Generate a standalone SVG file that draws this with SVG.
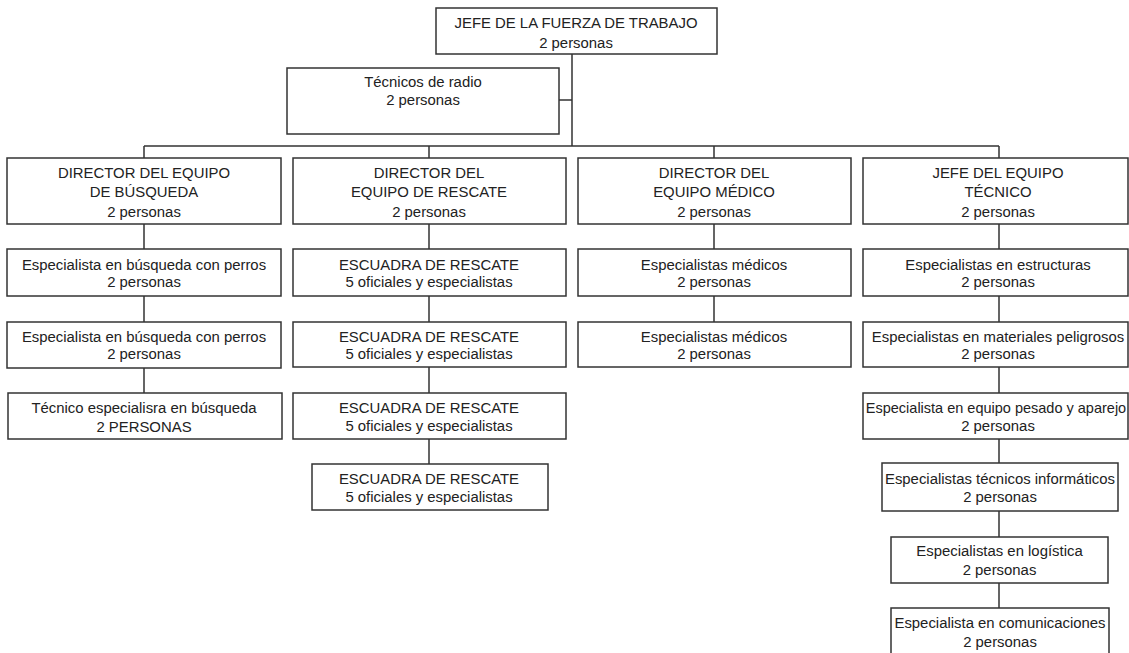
<svg xmlns="http://www.w3.org/2000/svg" width="1129" height="653" viewBox="0 0 1129 653">
<style>
.b{fill:#fff;stroke:#333;stroke-width:1.5}
.c{fill:none;stroke:#333;stroke-width:1.5}
text{font-family:"Liberation Sans",Arial,sans-serif;font-size:14.9px;fill:#222;text-anchor:middle}
</style>
<rect width="1129" height="653" fill="#fff"/>
<g id="connectors">
<path class="c" d="M572 54V146M559 100H572M144 146H999M144 146V158M429 146V158M714 146V158M999 146V158"/>
<path class="c" d="M144 224V249M144 296V322M144 368V393"/>
<path class="c" d="M429 224V249M429 296V322M429 367V393M429 439V464"/>
<path class="c" d="M714 224V249M714 296V322"/>
<path class="c" d="M999 224V249M999 296V322M999 367V393M999 439V463M999 511V537M999 583V608"/>
</g>
<g id="jefe"><rect class="b" x="436" y="8" width="281" height="46"/><text x="576" y="28">JEFE DE LA FUERZA DE TRABAJO</text><text x="576" y="48">2 personas</text></g>
<g id="radio"><rect class="b" x="287" y="68" width="272" height="66"/><text x="423" y="87">Técnicos de radio</text><text x="423" y="105">2 personas</text></g>

<g id="dir-busqueda"><rect class="b" x="7" y="158" width="274" height="66"/><text x="144" y="178">DIRECTOR DEL EQUIPO</text><text x="144" y="197">DE BÚSQUEDA</text><text x="144" y="217">2 personas</text></g>
<g id="perros1"><rect class="b" x="7" y="249" width="274" height="47"/><text x="144" y="270">Especialista en búsqueda con perros</text><text x="144" y="287">2 personas</text></g>
<g id="perros2"><rect class="b" x="7" y="322" width="274" height="46"/><text x="144" y="342">Especialista en búsqueda con perros</text><text x="144" y="359">2 personas</text></g>
<g id="tec-busqueda"><rect class="b" x="8" y="393" width="274" height="46"/><text x="144" y="413">Técnico especialisra en búsqueda</text><text x="144" y="432">2 PERSONAS</text></g>

<g id="dir-rescate"><rect class="b" x="293" y="158" width="273" height="66"/><text x="429" y="178">DIRECTOR DEL</text><text x="429" y="197">EQUIPO DE RESCATE</text><text x="429" y="217">2 personas</text></g>
<g id="esc1"><rect class="b" x="293" y="249" width="273" height="47"/><text x="429" y="270">ESCUADRA DE RESCATE</text><text x="429" y="287">5 oficiales y especialistas</text></g>
<g id="esc2"><rect class="b" x="293" y="322" width="273" height="45"/><text x="429" y="342">ESCUADRA DE RESCATE</text><text x="429" y="359">5 oficiales y especialistas</text></g>
<g id="esc3"><rect class="b" x="293" y="393" width="273" height="46"/><text x="429" y="413">ESCUADRA DE RESCATE</text><text x="429" y="431">5 oficiales y especialistas</text></g>
<g id="esc4"><rect class="b" x="312" y="464" width="236" height="46"/><text x="429" y="484">ESCUADRA DE RESCATE</text><text x="429" y="502">5 oficiales y especialistas</text></g>

<g id="dir-medico"><rect class="b" x="578" y="158" width="273" height="66"/><text x="714" y="178">DIRECTOR DEL</text><text x="714" y="197">EQUIPO MÉDICO</text><text x="714" y="217">2 personas</text></g>
<g id="med1"><rect class="b" x="578" y="249" width="273" height="47"/><text x="714" y="270">Especialistas médicos</text><text x="714" y="287">2 personas</text></g>
<g id="med2"><rect class="b" x="578" y="322" width="273" height="45"/><text x="714" y="342">Especialistas médicos</text><text x="714" y="359">2 personas</text></g>

<g id="jefe-tecnico"><rect class="b" x="863" y="158" width="265" height="66"/><text x="998" y="178">JEFE DEL EQUIPO</text><text x="998" y="197">TÉCNICO</text><text x="998" y="217">2 personas</text></g>
<g id="estructuras"><rect class="b" x="863" y="249" width="265" height="47"/><text x="998" y="270">Especialistas en estructuras</text><text x="998" y="287">2 personas</text></g>
<g id="peligrosos"><rect class="b" x="863" y="322" width="265" height="45"/><text x="998" y="342">Especialistas en materiales peligrosos</text><text x="998" y="359">2 personas</text></g>
<g id="pesado"><rect class="b" x="863" y="393" width="265" height="46"/><text x="996" y="413" style="font-size:14.5px">Especialista en equipo pesado y aparejo</text><text x="998" y="431">2 personas</text></g>
<g id="informaticos"><rect class="b" x="882" y="463" width="236" height="48"/><text x="1000" y="484">Especialistas técnicos informáticos</text><text x="1000" y="502">2 personas</text></g>
<g id="logistica"><rect class="b" x="891" y="537" width="217" height="46"/><text x="999.5" y="556">Especialistas en logística</text><text x="999.5" y="575">2 personas</text></g>
<g id="comunicaciones"><rect class="b" x="891" y="608" width="218" height="47"/><text x="1000" y="628">Especialista en comunicaciones</text><text x="1000" y="647">2 personas</text></g>
</svg>
